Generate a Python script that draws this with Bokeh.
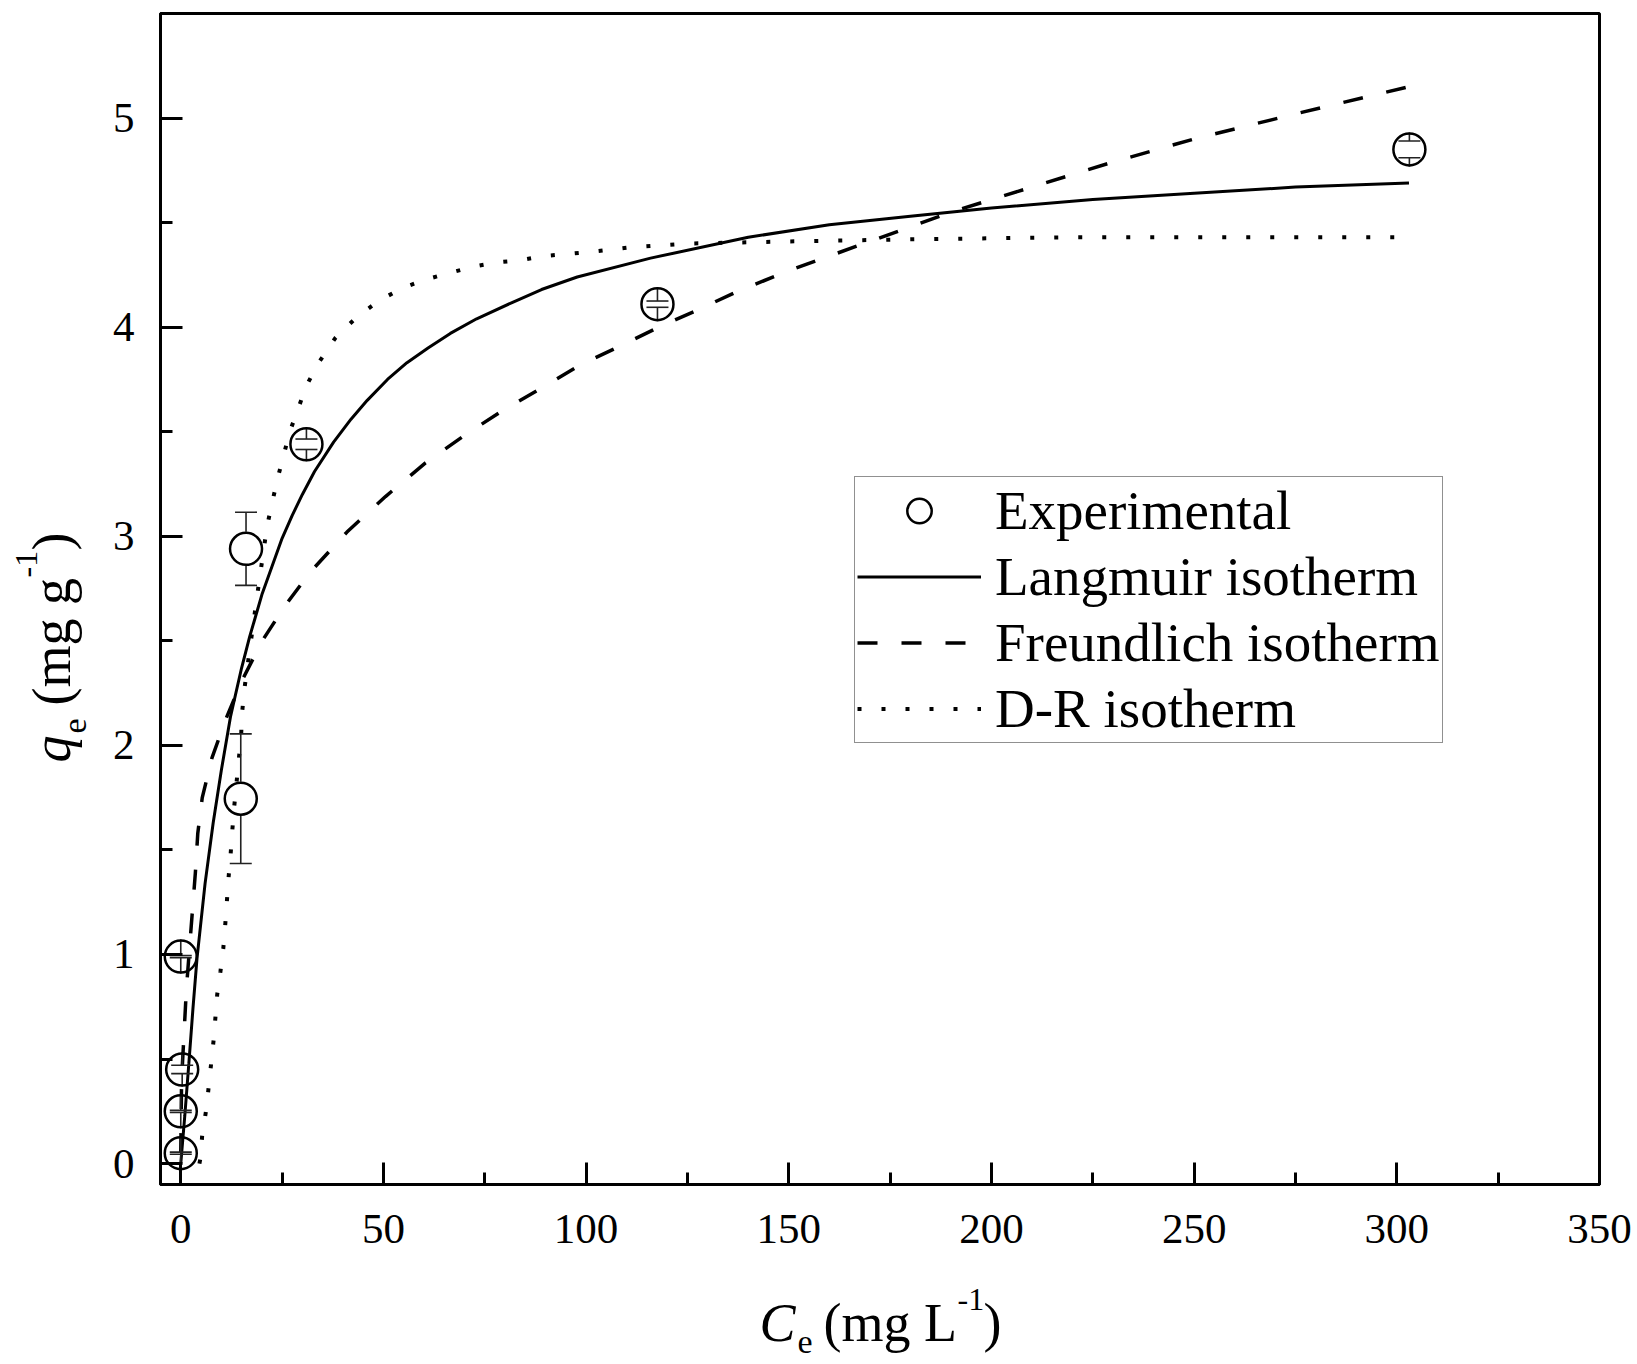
import math
from bokeh.plotting import figure
from bokeh.models import (Range1d, SingleIntervalTicker, Legend, LegendItem,
                          ColumnDataSource)
from bokeh.core.properties import value
from bokeh.embed import file_html
from bokeh.resources import INLINE

# ---------------- data ----------------
ce_exp = [0.0, 0.0, 0.35, 0.0, 14.8, 16.1, 31.0, 117.6, 303.1]
qe_exp = [0.05, 0.25, 0.45, 0.99, 1.745, 2.94, 3.44, 4.11, 4.85]
qe_err = [0.005, 0.005, 0.02, 0.005, 0.31, 0.175, 0.025, 0.015, 0.04]

lang_c = [0, 1, 2, 3, 4, 6, 8, 10, 12.3, 15, 17, 20, 25, 27.5, 30, 33, 37.7, 42, 46, 51,
          55.8, 61, 66.5, 73, 82, 89, 97.8, 115.9, 140, 160, 180, 200, 225, 250, 275, 303]
lang_q = [0.00, 0.23, 0.48, 0.74, 0.98, 1.34, 1.63, 1.88, 2.14, 2.37, 2.52, 2.72, 2.99,
          3.10, 3.20, 3.31, 3.45, 3.56, 3.65, 3.75, 3.83, 3.90, 3.97, 4.04, 4.12, 4.18,
          4.24, 4.33, 4.43, 4.49, 4.53, 4.57, 4.61, 4.64, 4.67, 4.69]

fr_c = [0.0, 0.2, 0.75, 1.4, 2.8, 3.6, 4.2, 5.3, 7.7, 11.0, 15.1, 20.1, 25.8, 32.0, 41.0,
        50.5, 60.3, 69.8, 79.3, 89.1, 98.6, 108.4, 117.9, 127.3, 137.2, 150, 170, 190,
        210, 230, 250, 275, 303]
fr_q = [0.05, 0.40, 0.60, 0.84, 1.19, 1.39, 1.58, 1.75, 1.94, 2.12, 2.31, 2.50, 2.67,
        2.83, 3.02, 3.19, 3.35, 3.48, 3.60, 3.71, 3.82, 3.91, 4.00, 4.08, 4.17, 4.27,
        4.41, 4.55, 4.67, 4.79, 4.90, 5.02, 5.15]

dr_c = [4.6, 4.9, 5.3, 6.3, 8.1, 9.0, 9.8, 10.5, 11.0, 11.4, 11.8, 12.3, 12.7, 13.2, 14.3,
        14.9, 15.1, 15.7, 16.4, 18.8, 21.3, 23.8, 26.9, 31.0, 34.0, 38.2, 43.5, 49.2,
        55.0, 60.8, 66.5, 72.3, 78.0, 83.8, 89.5, 95.3, 101.0, 110, 125, 150, 180, 220,
        260, 303]
dr_q = [0.00, 0.03, 0.14, 0.26, 0.59, 0.81, 0.92, 1.03, 1.15, 1.26, 1.37, 1.48, 1.59,
        1.71, 1.93, 2.05, 2.15, 2.27, 2.37, 2.71, 3.05, 3.27, 3.50, 3.72, 3.83, 3.95,
        4.05, 4.13, 4.19, 4.23, 4.26, 4.29, 4.31, 4.32, 4.34, 4.35, 4.36, 4.38, 4.40,
        4.41, 4.42, 4.43, 4.43, 4.43]

legend_labels = ["Experimental", "Langmuir isotherm", "Freundlich isotherm", "D-R isotherm"]
x_ticks_interval = 50
y_ticks_interval = 1

# ---------------- layout constants ----------------
BL, BR, BT, BB = 160, 34, 13, 178
FRAME_W, FRAME_H = 1439, 1171
W, H = BL + FRAME_W + BR, BT + FRAME_H + BB
X0, X1 = -5, 350
Y0, Y1 = -0.1, 5.5
FONT = "Liberation Serif"

p = figure(width=W, height=H, output_backend="svg", toolbar_location=None,
           x_range=Range1d(X0, X1), y_range=Range1d(Y0, Y1),
           min_border_left=BL, min_border_right=BR, min_border_top=BT,
           min_border_bottom=BB, background_fill_color="white",
           border_fill_color="white")
p.grid.visible = False
p.outline_line_color = "black"
p.outline_line_width = 3

p.xaxis.ticker = SingleIntervalTicker(interval=x_ticks_interval, num_minor_ticks=2)
p.yaxis.ticker = SingleIntervalTicker(interval=y_ticks_interval, num_minor_ticks=2)
for ax in (p.xaxis[0], p.yaxis[0]):
    ax.axis_line_width = 3
    ax.axis_line_color = "black"
    ax.major_tick_line_width = 3
    ax.minor_tick_line_width = 3
    ax.major_tick_in = 22
    ax.major_tick_out = 0
    ax.minor_tick_in = 12
    ax.minor_tick_out = 0
    ax.major_label_text_font = FONT
    ax.major_label_text_font_size = "43px"
    ax.major_label_text_color = "black"
p.xaxis.major_label_standoff = 30
p.yaxis.major_label_standoff = 26

# ---------------- curves ----------------
r_lang = p.line(lang_c, lang_q, line_color="black", line_width=3)
r_fr = p.line(fr_c, fr_q, line_color="black", line_width=3.5, line_dash="20 24")
r_dr = p.line(dr_c, dr_q, line_color="black", line_width=4, line_dash="4 20")

# ---------------- experimental points with error bars ----------------
R_PX = 17.0
r_data = R_PX / (FRAME_H / (Y1 - Y0))
src = ColumnDataSource(dict(
    x=ce_exp, y=qe_exp,
    top_in=[q + r_data for q in qe_exp], top_out=[q + e for q, e in zip(qe_exp, qe_err)],
    bot_in=[q - r_data for q in qe_exp], bot_out=[q - e for q, e in zip(qe_exp, qe_err)],
))
p.segment(x0="x", y0="top_in", x1="x", y1="top_out", source=src, line_color="#222222",
          line_width=1.6)
p.segment(x0="x", y0="bot_in", x1="x", y1="bot_out", source=src, line_color="#222222",
          line_width=1.6)
p.scatter(x="x", y="top_out", source=src, marker="dash", size=22, line_color="#222222",
          line_width=1.6)
p.scatter(x="x", y="bot_out", source=src, marker="dash", size=22, line_color="#222222",
          line_width=1.6)
r_exp = p.scatter(x="x", y="y", source=src, marker="circle", size=32, fill_alpha=0,
                  line_color="black", line_width=2.5)

# ---------------- legend ----------------
legend = Legend(items=[LegendItem(label=legend_labels[0], renderers=[r_exp]),
                       LegendItem(label=legend_labels[1], renderers=[r_lang]),
                       LegendItem(label=legend_labels[2], renderers=[r_fr]),
                       LegendItem(label=legend_labels[3], renderers=[r_dr])],
                location=(694, 441))
legend.label_text_font = FONT
legend.label_text_font_size = "55px"
legend.label_text_color = "black"
legend.glyph_width = 124
legend.glyph_height = 61
legend.label_height = 61
legend.label_standoff = 14
legend.padding = 2
legend.spacing = 3
legend.margin = 0
legend.border_line_color = "#222222"
legend.border_line_width = 1.5
legend.background_fill_color = "white"
legend.background_fill_alpha = 1.0
p.add_layout(legend)


# ---------------- axis titles built from pieces (drawn above the frame clip) ----------------
MID = 0.3375  # offset from the anchor to the alphabetic baseline, in em


def px_to_data(px, py):
    return (X0 + (px - BL) * (X1 - X0) / FRAME_W,
            Y1 - (py - BT) * (Y1 - Y0) / FRAME_H)


def add_text(txt, px, py, size, italic=False, angle=0.0):
    # (px, py): start of the text on its baseline, in canvas pixels
    if angle == 0.0:
        py = py - MID * size
    else:
        px = px - MID * size
    dx, dy = px_to_data(px, py)
    p.text(x=[dx], y=[dy], text=[txt], text_font=value(FONT),
           text_font_size=value(f"{size}px"),
           text_font_style="italic" if italic else "normal",
           text_align="left", text_baseline="alphabetic", angle=angle,
           text_color="black", level="overlay")


add_text("C", 759, 1341, 54, italic=True)
add_text("e", 797, 1353, 34)
add_text("(mg L", 823, 1341, 54)
add_text("-1", 957, 1310, 32)
add_text(")", 983, 1341, 54)

A = math.pi / 2
add_text("q", 70, 762, 54, italic=True, angle=A)
add_text("e", 86, 733, 34, angle=A)
add_text("(mg g", 70, 705, 54, angle=A)
add_text("-1", 37, 577, 32, angle=A)
add_text(")", 70, 550, 54, angle=A)

open("out.html", "w").write(file_html(p, INLINE))
